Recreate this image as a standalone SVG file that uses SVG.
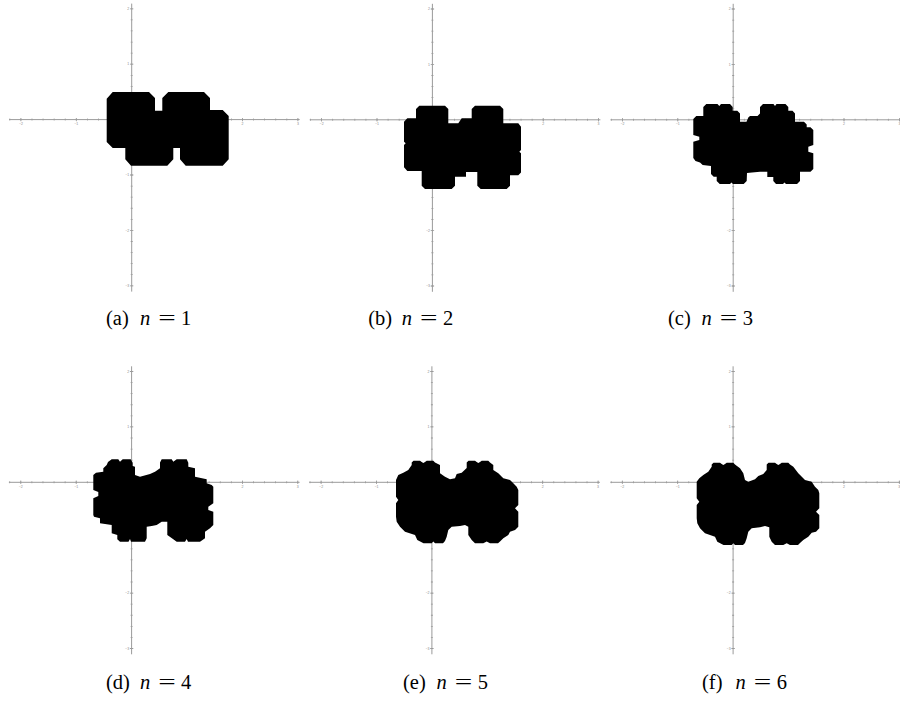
<svg xmlns="http://www.w3.org/2000/svg" xmlns:xlink="http://www.w3.org/1999/xlink" width="900" height="701" viewBox="0 0 900 701">
<style>
.axl{stroke:#9a9a9a;stroke-width:1;fill:none}
.tk{stroke:#9a9a9a;fill:none}
.tl{font-family:"Liberation Sans",Arial,sans-serif;font-size:3.5px;fill:#8a8a8a}
.sh{fill:#000;stroke:none}
.cap{font-family:"Liberation Serif","Times New Roman",serif;font-size:20.5px;fill:#000}
.it{font-style:italic}
</style>
<defs>
<g id="axes">
<path class="axl" d="M-122.7,0 H168 M0,-116 V172"/>
<path class="tk" stroke-width="2" stroke-dasharray="0.8 10.28" d="M-122.28,0 H167"/>
<path class="tk" stroke-width="2" stroke-dasharray="0.8 10.28" d="M0,-111.2 V167"/>
<path class="tk" stroke-width="3.4" stroke-dasharray="0.8 54.6" d="M-111.2,0 H167"/>
<path class="tk" stroke-width="3.4" stroke-dasharray="0.8 54.6" d="M0,-111.2 V167"/>
<g class="tl" text-anchor="middle">
<text x="-110.8" y="5.5">−2</text>
<text x="-55.4" y="5.5">−1</text>
<text x="110.8" y="5.5">2</text>
<text x="166.2" y="5.5">3</text>
</g>
<g class="tl" text-anchor="end">
<text x="-2.5" y="-109.6">2</text>
<text x="-2.5" y="-54.2">1</text>
<text x="-2.5" y="56.6">−1</text>
<text x="-2.5" y="112">−2</text>
<text x="-2.5" y="167.4">−3</text>
</g>
</g>
</defs>
<rect width="900" height="701" fill="#fff"/>

<g id="panel-a">
<use xlink:href="#axes" transform="translate(131.7,119.6)"/>
<path class="sh" d="M112.7,92 L149,92 L155,98 L155,110.7 L162.3,110.7 L162.3,98 L168.3,92 L204,92 L210,98 L210,110 L222.7,110 L228.7,116 L228.7,159.3 L222.7,165.7 L185.7,165.7 L180,159.3 L180,148 L173.3,148 L173.3,159.3 L167.3,165.7 L131,165.7 L125.3,159.3 L125.3,148 L112.7,148 L106.7,142 L106.7,98.7 Z"/>
<text class="cap" y="325"><tspan x="106">(a)</tspan><tspan class="it" x="140">n</tspan><tspan x="158.3" textLength="17.5" lengthAdjust="spacingAndGlyphs">=</tspan><tspan x="181">1</tspan></text>
</g>

<g id="panel-b">
<use xlink:href="#axes" transform="translate(432.4,119.8)"/>
<path class="sh" d="M407.3,118.3 L416,118.3 L416,109 L419.3,105.7 L445,105.7 L448.3,109 L448.3,123.3 L458.3,123.3 L461.7,118.3 L471.7,118.3 L471.7,109 L475,105.7 L500,105.7 L503.3,109 L503.3,123.3 L518.3,123.3 L521,126.7 L521,150 L519.3,151.7 L521,153.3 L521,172.5 L518.3,175.3 L510,175.3 L510,185.7 L506.7,189 L480.7,189 L477.3,185.7 L477.3,172 L466,172 L466,176.7 L455,176.7 L455,185.7 L451.7,189 L425,189 L421.7,185.7 L421.7,171 L407.3,171 L404,167.3 L404,145 L405.7,143.3 L404,141.7 L404,121.7 Z"/>
<text class="cap" y="325"><tspan x="368.3">(b)</tspan><tspan class="it" x="401.7">n</tspan><tspan x="420" textLength="17.5" lengthAdjust="spacingAndGlyphs">=</tspan><tspan x="443">2</tspan></text>
</g>

<g id="panel-c">
<use xlink:href="#axes" transform="translate(733.2,119.8)"/>
<path class="sh" d="M696.3,116 L703.3,116 L703.3,107 L706.3,104 L717.5,104 L719.3,106 L721,104 L730,104 L732.7,107 L732.7,110.7 L737.3,110.7 L740,113.5 L740,121.7 L746.5,121.7 L748.3,117.5 L750,116 L757.5,116 L760,113.5 L760,107 L763,104 L773.5,104 L775,106 L776.5,104 L785.5,104 L788.3,107 L788.3,110.7 L792.5,110.7 L795,113.5 L795,121.7 L804,121.7 L806.7,124.5 L806.7,127.3 L810.5,127.3 L813.3,130 L813.3,145 L808.3,146.7 L808.3,151.7 L813.3,153.3 L813.3,169 L810.5,171.7 L800,171.7 L800,181 L797,184 L786,184 L784.5,182.5 L783,184 L776,184 L773.3,181 L773.3,177 L767.3,177 L767.3,171.7 L760,171.7 L752,172.5 L747,173 L746.7,181 L743.7,184 L733,184 L731.5,182.5 L730,184 L719.7,184 L716.7,181 L716.7,176.7 L713.7,176.7 L711,174 L711,166 L702.7,165 L700,162.5 L695.5,161 L693.3,158 L693.3,141.7 L699.3,140 L699.3,136.7 L693.3,135 L693.3,119 Z"/>
<text class="cap" y="325"><tspan x="668">(c)</tspan><tspan class="it" x="701.5">n</tspan><tspan x="719.8" textLength="17.5" lengthAdjust="spacingAndGlyphs">=</tspan><tspan x="742.8">3</tspan></text>
</g>

<g id="panel-d">
<use xlink:href="#axes" transform="translate(131.6,482.3)"/>
<path class="sh" d="M96,472.7 L103.3,471.7 L103.3,468.3 L106.7,465 L108,462 L111.7,459.3 L118.3,459.3 L120,461.7 L122.7,459.3 L130.7,459.3 L132.7,462.7 L132.7,466 L135,466.7 L135,475 L140,476.7 L150,474 L155,471.7 L160,468.3 L160,462.5 L161.7,459.3 L171.7,459.3 L173.3,461.7 L176.7,459.3 L186.7,459.3 L188.3,462.7 L188.3,466.7 L195,468.3 L195,476.7 L206.7,479.3 L206.7,483.3 L211.7,485 L213.3,486.7 L213.3,503.3 L208.3,506.7 L208.3,510 L213.3,511.7 L213.3,525 L210,528.3 L205,531.7 L205,538.3 L200,541.7 L188,541.7 L186.7,539 L185,541.7 L176.7,541.7 L173.3,539.3 L167.3,535 L167.3,521.7 L161.7,521.7 L156.7,525 L151.7,526 L146.7,526.7 L146.7,538.3 L145,541.7 L131,541.7 L130,539 L128.5,541.7 L120,541.7 L117.3,539.3 L117.3,535 L111.7,533.3 L111.7,525 L100,523.3 L100,518.3 L94,516.7 L93.3,515 L93.3,498.3 L98.3,496 L98.3,492 L93.3,490 L93.3,475 Z"/>
<text class="cap" y="689"><tspan x="106">(d)</tspan><tspan class="it" x="140">n</tspan><tspan x="158.3" textLength="17.5" lengthAdjust="spacingAndGlyphs">=</tspan><tspan x="181">4</tspan></text>
</g>

<g id="panel-e">
<use xlink:href="#axes" transform="translate(431.9,482.3)"/>
<path class="sh" d="M398.3,475 L403.3,472.7 L408.3,470 L411.7,465 L411.7,462.5 L413.5,460.7 L420,460.7 L421.7,462 L423.3,463 L425,462 L426.7,460.7 L433.3,460.7 L435,462.5 L440,465 L440,473.3 L445,476.7 L450,479.3 L455,478.3 L456.7,474 L461.7,472.7 L466.7,468 L466.7,462.5 L468.5,460.7 L475,460.7 L476.7,462 L478.3,463 L480,462 L481.7,460.7 L488.3,460.7 L490,462.5 L493.3,465 L493.3,470 L498.3,473.3 L503.3,478.3 L510,480 L513.3,483.3 L516.7,486.7 L518.3,490 L518.3,505 L515,508.3 L518.3,511.7 L518.3,526.7 L515,530 L510,531.7 L508.3,535 L503.3,538.3 L500,541.5 L498,543.3 L490,543.3 L486.7,541.5 L483.3,543.3 L475,543.3 L471.7,540 L468.3,535 L468.3,526.7 L465,525 L460,526 L451.7,526.7 L448.3,530 L446.7,536.7 L445,541 L443,543.3 L435,543.3 L433.3,541.5 L431.7,543.3 L423.5,543.3 L417.3,540 L415,535 L405,531.7 L400,526.7 L396.7,521.7 L396,516.7 L396,503.3 L398.3,500 L396,496.7 L396,480 Z"/>
<text class="cap" y="689"><tspan x="403">(e)</tspan><tspan class="it" x="436.5">n</tspan><tspan x="454.8" textLength="17.5" lengthAdjust="spacingAndGlyphs">=</tspan><tspan x="477.8">5</tspan></text>
</g>

<g id="panel-f">
<use xlink:href="#axes" transform="translate(733.1,482.3)"/>
<path class="sh" d="M699.3,478.3 L703.3,475 L708.3,471.7 L711.7,466.7 L711.7,464.5 L713.5,462.7 L720,462.7 L721.7,464 L723.3,465 L725,464 L726.7,462.7 L733.3,462.7 L735,464.5 L740,468.3 L743.3,473.3 L745,480 L748.3,481.7 L755,479.3 L758.3,476 L763.3,474 L766.7,470 L766.7,464.5 L768.5,462.7 L775,462.7 L776.7,464 L778.3,465 L780,464 L781.7,462.7 L788.3,462.7 L790,464.5 L793.3,466.7 L798.3,473.3 L805,480 L811.7,481.7 L815,486.7 L818.3,490 L819.3,493.3 L819.3,508.3 L816,511.7 L819.3,515 L819.3,528.3 L816,531.7 L811.7,532.7 L808.3,536.7 L803.3,540 L800,543 L798,545 L790,545 L786.7,543.3 L783.3,545 L775,545 L771.7,541.7 L769.3,536.7 L769.3,527.3 L765,526 L760,527.3 L751.7,528.3 L748.3,531.7 L746.7,538.3 L745,543 L743,545 L735,545 L733.3,543.3 L731.7,545 L723.5,545 L717.3,541.7 L715,536.7 L705,533.3 L700,528.3 L697.3,523.3 L696.7,518.3 L696.7,505 L699.3,501.7 L696.7,498.3 L696.7,481.7 Z"/>
<text class="cap" y="689"><tspan x="702">(f)</tspan><tspan class="it" x="735.5">n</tspan><tspan x="753.8" textLength="17.5" lengthAdjust="spacingAndGlyphs">=</tspan><tspan x="776.8">6</tspan></text>
</g>
</svg>
